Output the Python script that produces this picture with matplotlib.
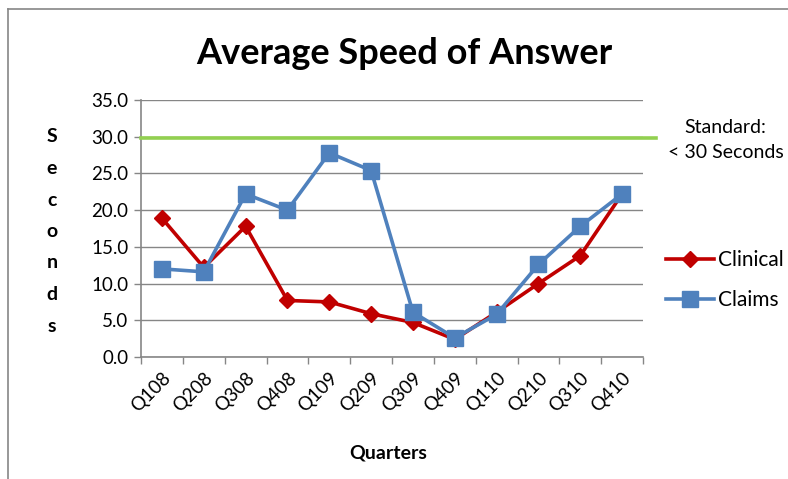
import matplotlib

matplotlib.use("Agg")

import matplotlib.pyplot as plt
from matplotlib.lines import Line2D

plt.rcParams["font.family"] = ["Lato", "DejaVu Sans"]

quarters = ["Q108", "Q208", "Q308", "Q408", "Q109", "Q209",
            "Q309", "Q409", "Q110", "Q210", "Q310", "Q410"]
clinical = [18.9, 12.2, 17.8, 7.7, 7.5, 5.9, 4.7, 2.4, 6.1, 10.0, 13.8, 22.2]
claims = [12.0, 11.6, 22.2, 20.0, 27.8, 25.4, 6.1, 2.6, 5.8, 12.6, 17.8, 22.2]
standard = 29.8
yticks = [0, 5, 10, 15, 20, 25, 30, 35]

RED = "#C00000"
BLUE = "#4F81BD"
GREEN = "#92D050"
AXIS = "#868686"

fig = plt.figure(figsize=(7.88, 4.79), dpi=100, facecolor="white")
ax = fig.add_axes([0.179, 0.2547, 0.637, 0.5365])

x = list(range(len(quarters)))
ax.plot(x, clinical, color=RED, lw=2.6, marker="D", ms=8.5, mec=RED, zorder=4,
        label="Clinical")
ax.plot(x, claims, color=BLUE, lw=2.6, marker="s", ms=11, mec=BLUE, zorder=5,
        label="Claims")

# standard line runs a bit past the plot area, as in the original
ax.axhline(standard, xmin=0, xmax=1.025, color=GREEN, lw=2.6, clip_on=False, zorder=3)

ax.set_xlim(-0.5, len(quarters) - 0.5)
ax.set_ylim(0, 35)
ax.set_yticks(yticks)
ax.set_yticklabels([f"{v:.1f}" for v in yticks], fontsize=13.5)
ax.grid(axis="y", color=AXIS, lw=1.0)
ax.set_axisbelow(True)

ax.set_xticks(x)
ax.set_xticklabels(quarters, rotation=45, ha="right", rotation_mode="anchor",
                   fontsize=13.5)
ax.set_xticks([i - 0.5 for i in range(len(quarters) + 1)], minor=True)
ax.tick_params(axis="x", which="major", length=0, pad=9)
ax.tick_params(axis="x", which="minor", length=5, color=AXIS, width=1)
ax.tick_params(axis="y", length=5, color=AXIS, width=1, pad=4)

for side in ("top", "right"):
    ax.spines[side].set_visible(False)
for side in ("left", "bottom"):
    ax.spines[side].set_color(AXIS)
    ax.spines[side].set_linewidth(1.2)

fig.text(0.513, 0.888, "Average Speed of Answer", ha="center", va="center",
         fontsize=26, fontweight="bold")
fig.text(0.492, 0.055, "Quarters", ha="center", va="center",
         fontsize=14, fontweight="bold")

# vertical stacked axis title
for i, ch in enumerate("Seconds"):
    fig.text(0.066, 1 - (137 + i * 31.5) / 479, ch, ha="center", va="center",
             fontsize=14, fontweight="bold")

fig.text(0.921, 1 - 140 / 479, "Standard:\n< 30 Seconds", ha="center", va="center",
         fontsize=14, linespacing=1.6)

ax.legend(loc="center left", bbox_to_anchor=(1.03, 0.3), frameon=False,
          fontsize=15, handlelength=2.3, handletextpad=0.2, labelspacing=0.95,
          borderaxespad=0)

# outer frame (only top and left edges visible in the original)
fig.add_artist(Line2D([0.0102, 1.0], [1 - 9 / 479] * 2, color=AXIS, lw=1.2))
fig.add_artist(Line2D([0.0102] * 2, [0, 1 - 9 / 479], color=AXIS, lw=1.2))

fig.savefig("out.png", dpi=100, facecolor="white")
